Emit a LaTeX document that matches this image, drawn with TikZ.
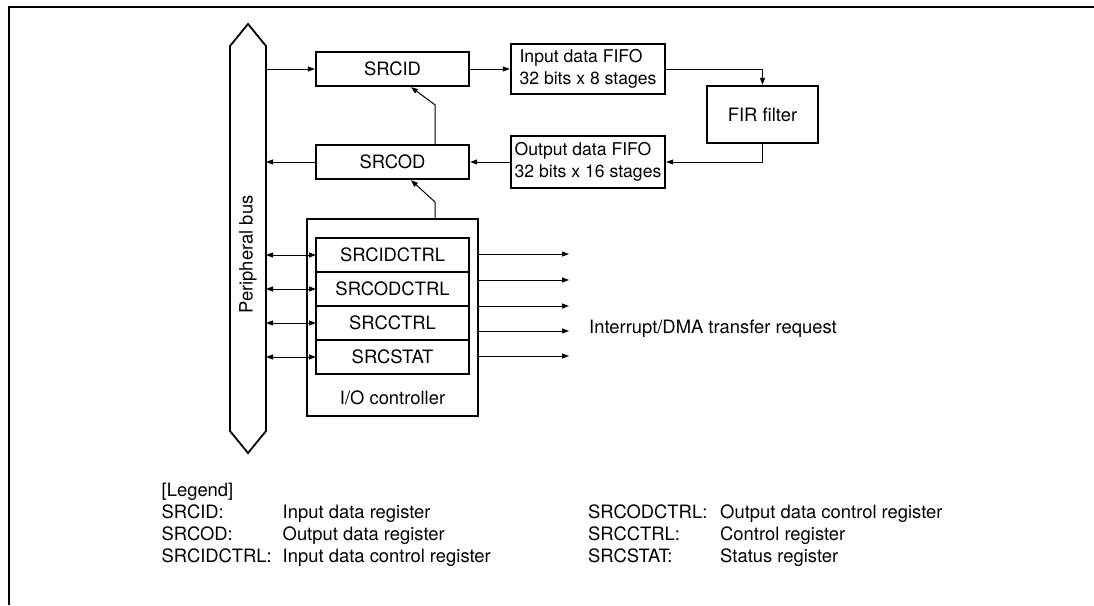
\documentclass[tikz,border=0pt]{standalone}
\usepackage{fontspec}
\setmainfont{TeX Gyre Heros}
\usepackage{tikz}
\usetikzlibrary{
  arrows.meta,
  positioning,
  calc
}

\begin{document}
\begin{tikzpicture}[
  x=1pt, y=-1pt,
  txt/.style={font=\fontsize{18.4}{21.5}\selectfont},
  box/.style={draw, line width=2.3pt, minimum width=153pt, minimum height=34pt, inner sep=0pt, txt},
  fifo/.style={draw, line width=2.3pt, align=left, minimum width=154pt, minimum height=#1, inner sep=3pt,
    font=\fontsize{17.6}{21.5}\selectfont},
  reg/.style={box, outer sep=0pt},
  arrow/.style={-{Triangle[length=7pt,width=5pt]}, line width=1pt},
  biarrow/.style={{Triangle[length=7pt,width=5pt]}-{Triangle[length=7pt,width=5pt]}, line width=1pt},
  legend/.style={txt, anchor=base west, inner sep=0pt}
]
  \useasboundingbox (0,0) rectangle (1094,605);

  % Frame
  \draw[line width=2.5pt] (9,605) -- (9,7) -- (1094,7);

  % Peripheral bus
  \node[minimum width=36pt, minimum height=385pt, inner sep=0pt, outer sep=0pt] (bus) at (248,238.5) {};
  \draw[line width=1.8pt] (bus.north west) -- ++(18,-22) -- (bus.north east) -- (bus.south east)
    -- ++(-18,22) -- (bus.south west) -- cycle;
  \node[txt, rotate=90] (buslbl) at ([yshift=-16pt]bus.center) {Peripheral bus};

  % Data registers
  \node[box] (srcid) at (392.5,69) {SRCID};
  \node[box] (srcod) at (392.5,162) {SRCOD};

  % FIFOs and filter
  \node[fifo=50pt] (ififo) at (588,69) {Input data FIFO\\32 bits x 8 stages};
  \node[fifo=52pt] (ofifo) at (588,162) {Output data FIFO\\32 bits x 16 stages};
  \node[draw, line width=2.3pt, minimum width=111pt, minimum height=57pt, txt] (fir) at (762.5,114.5) {FIR filter};

  % I/O controller
  \node[draw, line width=1.8pt, minimum width=171pt, minimum height=197pt, outer sep=0pt] (ioc) at (392.5,317.5) {};
  \node[txt] (ioclbl) at (392.5,398) {I/O controller};
  \node[reg] (rid) at (392.5,255) {SRCIDCTRL};
  \node[reg, below=0pt of rid] (rod) {SRCODCTRL};
  \node[reg, below=0pt of rod] (rctl) {SRCCTRL};
  \node[reg, below=0pt of rctl] (rstat) {SRCSTAT};

  % Arrows
  \draw[arrow] (bus.east |- srcid.west) -- (srcid.west);
  \draw[arrow] (srcod.west) -- (bus.east |- srcod.west);
  \draw[arrow] (srcid.east) -- (ififo.west);
  \draw[arrow] (ififo.east) -| (fir.north);
  \draw[arrow] (fir.south) |- (ofifo.east);
  \draw[arrow] (ofifo.west) -- (srcod.east);
  \draw[arrow] ([xshift=42.5pt]ioc.north) -- ++(0,-17) -- ([xshift=18.5pt]srcod.south);
  \draw[arrow] ([xshift=42.5pt]srcod.north) -- ++(0,-39) -- ([xshift=18.5pt]srcid.south);
  \foreach \r in {rid,rod,rctl,rstat}
    \draw[biarrow] (bus.east |- \r.west) -- (\r.west);

  % Interrupt/DMA requests
  \coordinate (reqend) at (569,0);
  \foreach \y in {254,280,306,331,356}
    \draw[arrow] (ioc.east |- 0,\y) -- (reqend |- 0,\y);
  \node[txt, anchor=west, inner sep=0pt] (irq) at (589,329) {Interrupt/DMA transfer request};

  % Legend
  \node[legend] (leg) at (161.5,496) {[Legend]};
  \foreach \y/\n/\d in {518/SRCID:/Input data register,
                        540/SRCOD:/Output data register,
                        562/SRCIDCTRL:/Input data control register} {
    \node[legend] at (161.5,\y) {\n};
    \node[legend] at (282.5,\y) {\d};
  }
  \foreach \y/\n/\d in {518/SRCODCTRL:/Output data control register,
                        540/SRCCTRL:/Control register,
                        562/SRCSTAT:/Status register} {
    \node[legend] at (588,\y) {\n};
    \node[legend] at (720,\y) {\d};
  }
\end{tikzpicture}
\end{document}
